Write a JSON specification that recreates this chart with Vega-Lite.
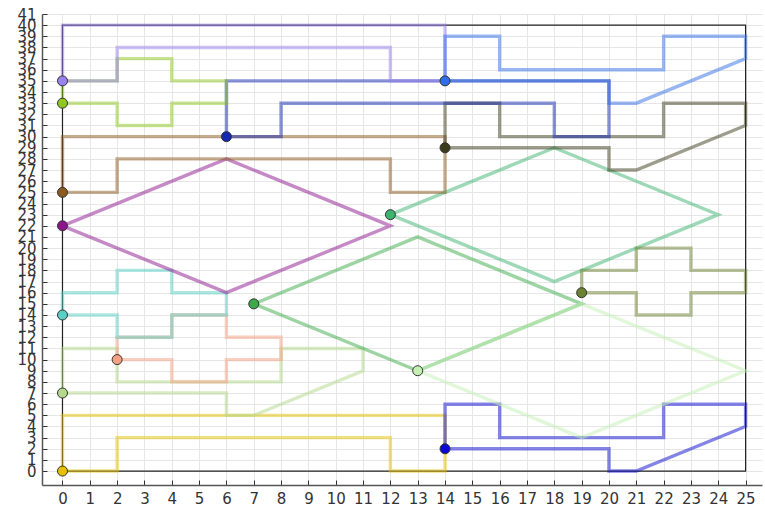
{
  "$schema": "https://vega.github.io/schema/vega-lite/v6.json",
  "width": 720,
  "height": 471,
  "autosize": {"type": "none"},
  "padding": {"left": 42, "top": 14, "right": 3, "bottom": 26},
  "background": "white",
  "config": {
    "view": {"stroke": null},
    "axis": {
      "grid": true,
      "gridColor": "#e6e6e6",
      "gridWidth": 1,
      "domainColor": "#555555",
      "domainWidth": 1.5,
      "tickColor": "#333333",
      "tickSize": -5,
      "tickWidth": 1,
      "labelFont": "DejaVu Sans",
      "labelFontSize": 15,
      "labelColor": "#333333",
      "labelPadding": 11,
      "labelOverlap": false,
      "labelBound": false,
      "labelFlush": false,
      "title": null
    }
  },
  "datasets": {
    "frame": [
      {"i": 0, "x": 0, "y": 0}, {"i": 1, "x": 25, "y": 0}, {"i": 2, "x": 25, "y": 40}, {"i": 3, "x": 0, "y": 40}, {"i": 4, "x": 0, "y": 0}
    ],
    "paths": [
      {"s": "s01", "i": 0, "x": 0, "y": 0}, {"s": "s01", "i": 1, "x": 2, "y": 0}, {"s": "s01", "i": 2, "x": 2, "y": 3}, {"s": "s01", "i": 3, "x": 12, "y": 3}, {"s": "s01", "i": 4, "x": 12, "y": 0}, {"s": "s01", "i": 5, "x": 14, "y": 0}, {"s": "s01", "i": 6, "x": 14, "y": 5}, {"s": "s01", "i": 7, "x": 0, "y": 5}, {"s": "s01", "i": 8, "x": 0, "y": 0},
      {"s": "s02", "i": 0, "x": 14, "y": 2}, {"s": "s02", "i": 1, "x": 20, "y": 2}, {"s": "s02", "i": 2, "x": 20, "y": 0}, {"s": "s02", "i": 3, "x": 21, "y": 0}, {"s": "s02", "i": 4, "x": 25, "y": 4}, {"s": "s02", "i": 5, "x": 25, "y": 6}, {"s": "s02", "i": 6, "x": 22, "y": 6}, {"s": "s02", "i": 7, "x": 22, "y": 3}, {"s": "s02", "i": 8, "x": 16, "y": 3}, {"s": "s02", "i": 9, "x": 16, "y": 6}, {"s": "s02", "i": 10, "x": 14, "y": 6}, {"s": "s02", "i": 11, "x": 14, "y": 2},
      {"s": "s03", "i": 0, "x": 0, "y": 7}, {"s": "s03", "i": 1, "x": 6, "y": 7}, {"s": "s03", "i": 2, "x": 6, "y": 5}, {"s": "s03", "i": 3, "x": 7, "y": 5}, {"s": "s03", "i": 4, "x": 11, "y": 9}, {"s": "s03", "i": 5, "x": 11, "y": 11}, {"s": "s03", "i": 6, "x": 8, "y": 11}, {"s": "s03", "i": 7, "x": 8, "y": 8}, {"s": "s03", "i": 8, "x": 2, "y": 8}, {"s": "s03", "i": 9, "x": 2, "y": 11}, {"s": "s03", "i": 10, "x": 0, "y": 11}, {"s": "s03", "i": 11, "x": 0, "y": 7},
      {"s": "s04", "i": 0, "x": 2, "y": 10}, {"s": "s04", "i": 1, "x": 4, "y": 10}, {"s": "s04", "i": 2, "x": 4, "y": 8}, {"s": "s04", "i": 3, "x": 6, "y": 8}, {"s": "s04", "i": 4, "x": 6, "y": 10}, {"s": "s04", "i": 5, "x": 8, "y": 10}, {"s": "s04", "i": 6, "x": 8, "y": 12}, {"s": "s04", "i": 7, "x": 6, "y": 12}, {"s": "s04", "i": 8, "x": 6, "y": 14}, {"s": "s04", "i": 9, "x": 4, "y": 14}, {"s": "s04", "i": 10, "x": 4, "y": 12}, {"s": "s04", "i": 11, "x": 2, "y": 12}, {"s": "s04", "i": 12, "x": 2, "y": 10},
      {"s": "s05", "i": 0, "x": 0, "y": 14}, {"s": "s05", "i": 1, "x": 2, "y": 14}, {"s": "s05", "i": 2, "x": 2, "y": 12}, {"s": "s05", "i": 3, "x": 4, "y": 12}, {"s": "s05", "i": 4, "x": 4, "y": 14}, {"s": "s05", "i": 5, "x": 6, "y": 14}, {"s": "s05", "i": 6, "x": 6, "y": 16}, {"s": "s05", "i": 7, "x": 4, "y": 16}, {"s": "s05", "i": 8, "x": 4, "y": 18}, {"s": "s05", "i": 9, "x": 2, "y": 18}, {"s": "s05", "i": 10, "x": 2, "y": 16}, {"s": "s05", "i": 11, "x": 0, "y": 16}, {"s": "s05", "i": 12, "x": 0, "y": 14},
      {"s": "s06", "i": 0, "x": 7, "y": 15}, {"s": "s06", "i": 1, "x": 13, "y": 21}, {"s": "s06", "i": 2, "x": 19, "y": 15}, {"s": "s06", "i": 3, "x": 13, "y": 9}, {"s": "s06", "i": 4, "x": 7, "y": 15},
      {"s": "s07", "i": 0, "x": 13, "y": 9}, {"s": "s07", "i": 1, "x": 19, "y": 3}, {"s": "s07", "i": 2, "x": 25, "y": 9}, {"s": "s07", "i": 3, "x": 19, "y": 15}, {"s": "s07", "i": 4, "x": 13, "y": 9},
      {"s": "s08", "i": 0, "x": 0, "y": 22}, {"s": "s08", "i": 1, "x": 6, "y": 28}, {"s": "s08", "i": 2, "x": 12, "y": 22}, {"s": "s08", "i": 3, "x": 6, "y": 16}, {"s": "s08", "i": 4, "x": 0, "y": 22},
      {"s": "s09", "i": 0, "x": 12, "y": 23}, {"s": "s09", "i": 1, "x": 18, "y": 29}, {"s": "s09", "i": 2, "x": 24, "y": 23}, {"s": "s09", "i": 3, "x": 18, "y": 17}, {"s": "s09", "i": 4, "x": 12, "y": 23},
      {"s": "s10", "i": 0, "x": 19, "y": 16}, {"s": "s10", "i": 1, "x": 21, "y": 16}, {"s": "s10", "i": 2, "x": 21, "y": 14}, {"s": "s10", "i": 3, "x": 23, "y": 14}, {"s": "s10", "i": 4, "x": 23, "y": 16}, {"s": "s10", "i": 5, "x": 25, "y": 16}, {"s": "s10", "i": 6, "x": 25, "y": 18}, {"s": "s10", "i": 7, "x": 23, "y": 18}, {"s": "s10", "i": 8, "x": 23, "y": 20}, {"s": "s10", "i": 9, "x": 21, "y": 20}, {"s": "s10", "i": 10, "x": 21, "y": 18}, {"s": "s10", "i": 11, "x": 19, "y": 18}, {"s": "s10", "i": 12, "x": 19, "y": 16},
      {"s": "s11", "i": 0, "x": 0, "y": 25}, {"s": "s11", "i": 1, "x": 2, "y": 25}, {"s": "s11", "i": 2, "x": 2, "y": 28}, {"s": "s11", "i": 3, "x": 12, "y": 28}, {"s": "s11", "i": 4, "x": 12, "y": 25}, {"s": "s11", "i": 5, "x": 14, "y": 25}, {"s": "s11", "i": 6, "x": 14, "y": 30}, {"s": "s11", "i": 7, "x": 0, "y": 30}, {"s": "s11", "i": 8, "x": 0, "y": 25},
      {"s": "s12", "i": 0, "x": 14, "y": 29}, {"s": "s12", "i": 1, "x": 20, "y": 29}, {"s": "s12", "i": 2, "x": 20, "y": 27}, {"s": "s12", "i": 3, "x": 21, "y": 27}, {"s": "s12", "i": 4, "x": 25, "y": 31}, {"s": "s12", "i": 5, "x": 25, "y": 33}, {"s": "s12", "i": 6, "x": 22, "y": 33}, {"s": "s12", "i": 7, "x": 22, "y": 30}, {"s": "s12", "i": 8, "x": 16, "y": 30}, {"s": "s12", "i": 9, "x": 16, "y": 33}, {"s": "s12", "i": 10, "x": 14, "y": 33}, {"s": "s12", "i": 11, "x": 14, "y": 29},
      {"s": "s13", "i": 0, "x": 6, "y": 30}, {"s": "s13", "i": 1, "x": 8, "y": 30}, {"s": "s13", "i": 2, "x": 8, "y": 33}, {"s": "s13", "i": 3, "x": 18, "y": 33}, {"s": "s13", "i": 4, "x": 18, "y": 30}, {"s": "s13", "i": 5, "x": 20, "y": 30}, {"s": "s13", "i": 6, "x": 20, "y": 35}, {"s": "s13", "i": 7, "x": 6, "y": 35}, {"s": "s13", "i": 8, "x": 6, "y": 30},
      {"s": "s14", "i": 0, "x": 0, "y": 33}, {"s": "s14", "i": 1, "x": 2, "y": 33}, {"s": "s14", "i": 2, "x": 2, "y": 31}, {"s": "s14", "i": 3, "x": 4, "y": 31}, {"s": "s14", "i": 4, "x": 4, "y": 33}, {"s": "s14", "i": 5, "x": 6, "y": 33}, {"s": "s14", "i": 6, "x": 6, "y": 35}, {"s": "s14", "i": 7, "x": 4, "y": 35}, {"s": "s14", "i": 8, "x": 4, "y": 37}, {"s": "s14", "i": 9, "x": 2, "y": 37}, {"s": "s14", "i": 10, "x": 2, "y": 35}, {"s": "s14", "i": 11, "x": 0, "y": 35}, {"s": "s14", "i": 12, "x": 0, "y": 33},
      {"s": "s15", "i": 0, "x": 0, "y": 35}, {"s": "s15", "i": 1, "x": 2, "y": 35}, {"s": "s15", "i": 2, "x": 2, "y": 38}, {"s": "s15", "i": 3, "x": 12, "y": 38}, {"s": "s15", "i": 4, "x": 12, "y": 35}, {"s": "s15", "i": 5, "x": 14, "y": 35}, {"s": "s15", "i": 6, "x": 14, "y": 40}, {"s": "s15", "i": 7, "x": 0, "y": 40}, {"s": "s15", "i": 8, "x": 0, "y": 35},
      {"s": "s16", "i": 0, "x": 14, "y": 35}, {"s": "s16", "i": 1, "x": 20, "y": 35}, {"s": "s16", "i": 2, "x": 20, "y": 33}, {"s": "s16", "i": 3, "x": 21, "y": 33}, {"s": "s16", "i": 4, "x": 25, "y": 37}, {"s": "s16", "i": 5, "x": 25, "y": 39}, {"s": "s16", "i": 6, "x": 22, "y": 39}, {"s": "s16", "i": 7, "x": 22, "y": 36}, {"s": "s16", "i": 8, "x": 16, "y": 36}, {"s": "s16", "i": 9, "x": 16, "y": 39}, {"s": "s16", "i": 10, "x": 14, "y": 39}, {"s": "s16", "i": 11, "x": 14, "y": 35}
    ],
    "starts": [
      {"s": "s01", "x": 0, "y": 0}, {"s": "s02", "x": 14, "y": 2}, {"s": "s03", "x": 0, "y": 7}, {"s": "s04", "x": 2, "y": 10},
      {"s": "s05", "x": 0, "y": 14}, {"s": "s06", "x": 7, "y": 15}, {"s": "s07", "x": 13, "y": 9}, {"s": "s08", "x": 0, "y": 22},
      {"s": "s09", "x": 12, "y": 23}, {"s": "s10", "x": 19, "y": 16}, {"s": "s11", "x": 0, "y": 25}, {"s": "s12", "x": 14, "y": 29},
      {"s": "s13", "x": 6, "y": 30}, {"s": "s14", "x": 0, "y": 33}, {"s": "s15", "x": 0, "y": 35}, {"s": "s16", "x": 14, "y": 35}
    ]
  },
  "encoding": {
    "x": {"field": "x", "type": "quantitative", "scale": {"domain": [-0.75, 25.6], "nice": false, "zero": false},
      "axis": {"values": [0,1,2,3,4,5,6,7,8,9,10,11,12,13,14,15,16,17,18,19,20,21,22,23,24,25], "format": "d"}},
    "y": {"field": "y", "type": "quantitative", "scale": {"domain": [-1.25, 41], "nice": false, "zero": false},
      "axis": {"values": [0,1,2,3,4,5,6,7,8,9,10,11,12,13,14,15,16,17,18,19,20,21,22,23,24,25,26,27,28,29,30,31,32,33,34,35,36,37,38,39,40,41], "format": "d"}}
  },
  "layer": [
    {
      "data": {"name": "frame"},
      "mark": {"type": "line", "color": "#222222", "strokeWidth": 1.2},
      "encoding": {"order": {"field": "i", "type": "quantitative"}}
    },
    {
      "data": {"name": "paths"},
      "mark": {"type": "line", "strokeWidth": 3.4, "opacity": 0.5, "strokeJoin": "miter"},
      "encoding": {
        "detail": {"field": "s", "type": "nominal"},
        "order": {"field": "i", "type": "quantitative"},
        "color": {"field": "s", "type": "nominal", "legend": null,
          "scale": {"domain": ["s01","s02","s03","s04","s05","s06","s07","s08","s09","s10","s11","s12","s13","s14","s15","s16"],
            "range": ["#e6bf00","#0a0ad0","#b4d88c","#f5a080","#5ccfc4","#3caa48","#c4f0b4","#8b168b","#3cb46e","#6b8232","#8b5a20","#3c3c1c","#1428b0","#8ec820","#9a82f0","#2f6ee6"]}}
      }
    },
    {
      "data": {"name": "starts"},
      "mark": {"type": "circle", "size": 100, "opacity": 1, "stroke": "#333333", "strokeWidth": 1},
      "encoding": {
        "color": {"field": "s", "type": "nominal", "legend": null}
      }
    }
  ]
}
